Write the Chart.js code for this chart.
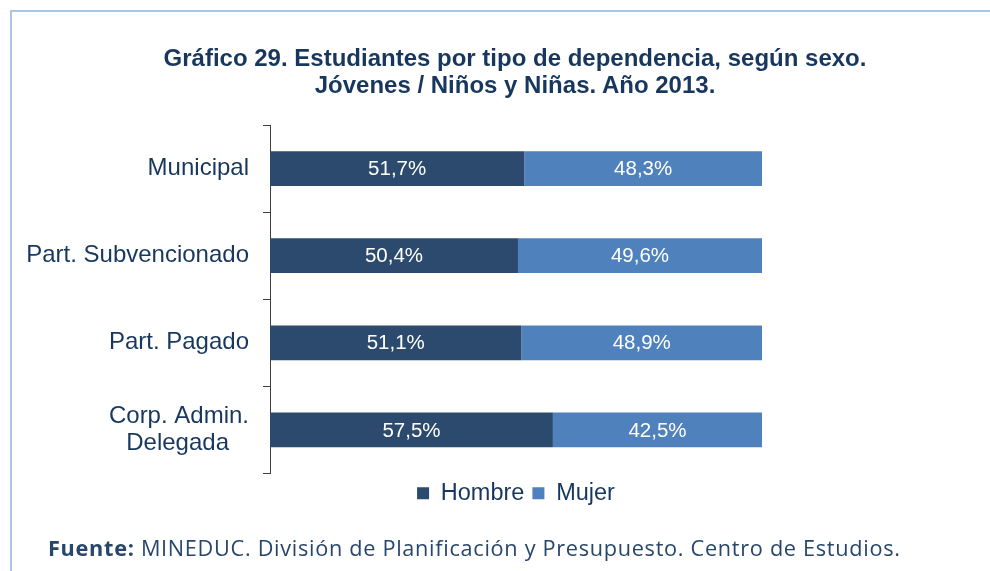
<!DOCTYPE html>
<html>
<head>
<meta charset="utf-8">
<script src="https://cdn.jsdelivr.net/npm/chart.js@4/dist/chart.umd.min.js"></script>
<style>
  html, body { margin: 0; padding: 0; background: #ffffff; }
  #wrap { position: relative; width: 990px; height: 571px; overflow: hidden; background: #fff; }
  #frame { position: absolute; left: 10px; top: 10px; width: 1200px; height: 800px;
           border-left: 2px solid #A9C6E8; border-top: 2px solid #A9C6E8; box-sizing: border-box; }
  #c { position: absolute; left: 0; top: 0; }
  #title { position: absolute; left: 65px; width: 900px; top: 43.5px; text-align: center;
           font-family: "Liberation Sans", Arial, sans-serif; font-weight: bold; font-size: 24px;
           line-height: 27.5px; color: #17375E; white-space: nowrap; }
  #note { position: absolute; left: 48px; top: 534px; font-family: "Open Sans", sans-serif;
          font-size: 21.7px; letter-spacing: 0.7px; line-height: 28px; color: #27466B; white-space: nowrap; }
  #note b { font-weight: 700; }
</style>
</head>
<body>
<div id="wrap">
  <div id="frame"></div>
  <canvas id="c" width="990" height="571"></canvas>
  <div id="title"></div>
  <div id="note"><b>Fuente:</b> MINEDUC. División de Planificación y Presupuesto. Centro de Estudios.</div>
</div>
<script>
const categories = ['Municipal', 'Part. Subvencionado', 'Part. Pagado', ['Corp. Admin.', 'Delegada\u00A0\u00A0\u00A0']];
const hombre = [51.7, 50.4, 51.1, 57.5];
const mujer = [48.3, 49.6, 48.9, 42.5];
const seriesNames = ['Hombre', 'Mujer'];
const titleLines = ['Gráfico 29. Estudiantes por tipo de dependencia, según sexo.', 'Jóvenes / Niños y Niñas. Año 2013.'];

const NAVY = '#17375E';

const titleEl = document.getElementById('title');
titleLines.forEach((t, i) => {
  if (i) titleEl.appendChild(document.createElement('br'));
  titleEl.appendChild(document.createTextNode(t));
});

const barLabels = {
  id: 'barLabels',
  afterDatasetsDraw(chart) {
    const ctx = chart.ctx;
    ctx.save();
    ctx.font = '20.5px "Liberation Sans", Arial, sans-serif';
    ctx.fillStyle = '#ffffff';
    ctx.textAlign = 'center';
    ctx.textBaseline = 'middle';
    chart.data.datasets.forEach((ds, di) => {
      const meta = chart.getDatasetMeta(di);
      meta.data.forEach((el, i) => {
        const v = ds.data[i];
        const cx = (el.x + el.base) / 2;
        ctx.fillText(v.toFixed(1).replace('.', ',') + '%', cx, el.y + 1);
      });
    });
    ctx.restore();
  }
};

new Chart(document.getElementById('c'), {
  type: 'bar',
  data: {
    labels: categories,
    datasets: [
      { label: seriesNames[0], data: hombre, backgroundColor: '#2B4A6D', borderWidth: 0 },
      { label: seriesNames[1], data: mujer, backgroundColor: '#4F81BD', borderWidth: 0 }
    ]
  },
  options: {
    indexAxis: 'y',
    responsive: false,
    animation: false,
    devicePixelRatio: 1,
    layout: { padding: { left: 0, right: 228, top: 125, bottom: 56 } },
    datasets: { bar: { categoryPercentage: 1, barPercentage: 0.4 } },
    scales: {
      x: { stacked: true, display: false, min: 0, max: 100 },
      y: {
        stacked: true,
        afterFit(scale) { scale.width = 270; },
        border: { display: true, color: '#404040', width: 1 },
        grid: { drawOnChartArea: false, drawTicks: true, tickLength: 7, color: '#404040', offset: true },
        ticks: {
          color: NAVY, padding: 14, autoSkip: false,
          font: { family: '"Liberation Sans", Arial, sans-serif', size: 24, lineHeight: 1.15 }
        }
      }
    },
    plugins: {
      title: { display: false },
      legend: {
        position: 'bottom',
        fullSize: false,
        labels: {
          color: NAVY, boxWidth: 12, boxHeight: 12, padding: 8,
          font: { family: '"Liberation Sans", Arial, sans-serif', size: 23.5 }
        }
      },
      tooltip: { enabled: false }
    }
  },
  plugins: [barLabels]
});
</script>
</body>
</html>
